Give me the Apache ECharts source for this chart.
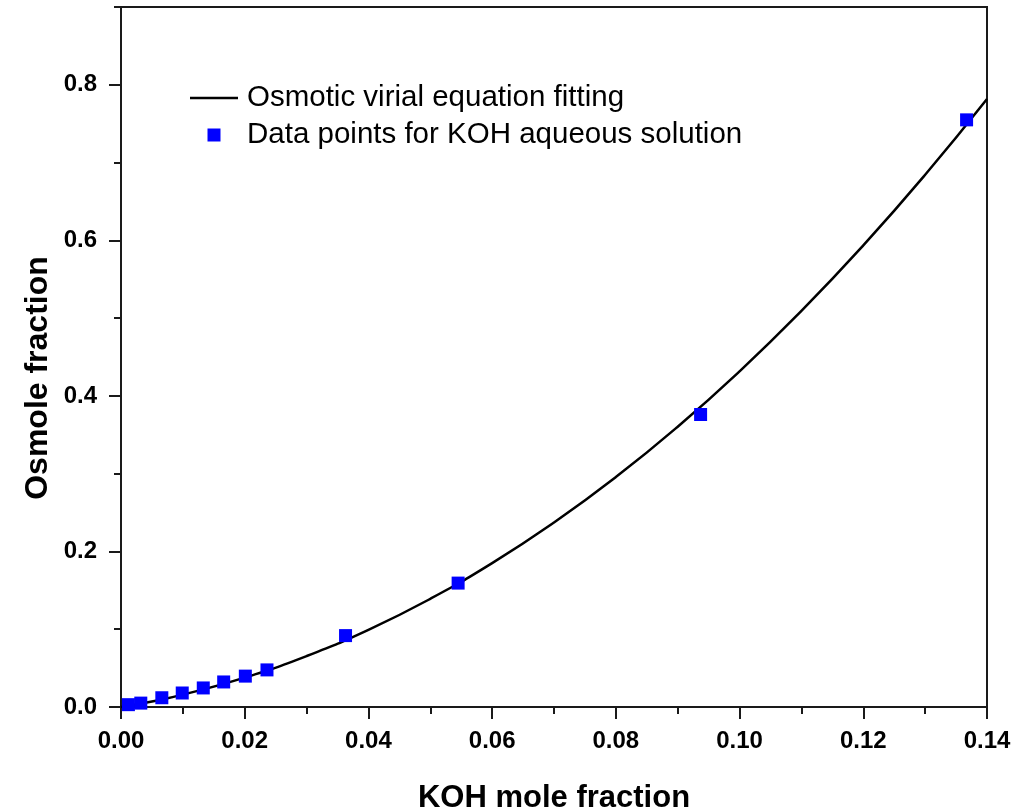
<!DOCTYPE html>
<html>
<head>
<meta charset="utf-8">
<script src="https://cdn.jsdelivr.net/npm/echarts@6/dist/echarts.min.js"></script>
<style>
html,body{margin:0;padding:0;background:#fff;}
#chart{width:1014px;height:810px;}
</style>
</head>
<body>
<div id="chart"></div>
<script>
// Data points for KOH aqueous solution
const xData = [0.0012, 0.0032, 0.0066, 0.0099, 0.0133, 0.0166, 0.0201, 0.0236, 0.0363, 0.0545, 0.0937, 0.1367];
const yData = [0.0030, 0.0050, 0.0119, 0.0180, 0.0245, 0.0322, 0.0397, 0.0477, 0.0918, 0.1593, 0.3761, 0.7549];

// Osmotic virial equation fitting curve
const xFit = [0, 0.005, 0.01, 0.02, 0.03, 0.04, 0.05, 0.06, 0.07, 0.08, 0.09, 0.10, 0.11, 0.12, 0.13, 0.14];
const yFit = [0, 0.0072, 0.0159, 0.0378, 0.0655, 0.0992, 0.1391, 0.1850, 0.2372, 0.2956, 0.3604, 0.4316, 0.5093, 0.5935, 0.6843, 0.7818];

const xTitle = 'KOH mole fraction';
const yTitle = 'Osmole fraction';
const lineName = 'Osmotic virial equation fitting';
const scatterName = 'Data points for KOH aqueous solution';
const yMajorTicks = [0, 0.2, 0.4, 0.6, 0.8];

const chart = echarts.init(document.getElementById('chart'), null, {renderer: 'canvas'});
const FONT = 'Liberation Sans, Arial, sans-serif';

const option = {
  backgroundColor: '#fff',
  animation: false,
  grid: {
    left: 121, right: 27, top: 7, bottom: 103,
    outerBoundsMode: 'none', containLabel: false,
    show: true, borderColor: '#1a1a1a', borderWidth: 2, backgroundColor: 'transparent'
  },
  legend: {
    orient: 'vertical',
    left: 190, top: 83, padding: 0,
    itemWidth: 48, itemHeight: 13, itemGap: 7,
    textStyle: {fontFamily: FONT, fontSize: 29.5, color: '#000', lineHeight: 30, padding: [0, 0, 0, 4]},
    data: [
      {name: lineName, icon: 'path://M0,0H48V2.5H0Z', itemStyle: {color: '#000'}},
      {name: scatterName, icon: 'path://M0,0H10V10H0Z', itemStyle: {color: '#0000ff'}}
    ]
  },
  xAxis: {
    type: 'value', min: 0, max: 0.14, interval: 0.02,
    axisLine: {show: true, onZero: false, lineStyle: {color: '#1a1a1a', width: 2}},
    axisTick: {show: true, inside: false, length: 12, lineStyle: {color: '#1a1a1a', width: 2}},
    minorTick: {show: true, splitNumber: 2, length: 7, lineStyle: {color: '#1a1a1a', width: 2}},
    splitLine: {show: false},
    axisLabel: {fontFamily: FONT, fontSize: 24, fontWeight: 'bold', color: '#000', margin: 22,
      formatter: v => v.toFixed(2)},
    name: xTitle, nameLocation: 'middle', nameGap: 76,
    nameTextStyle: {fontFamily: FONT, fontSize: 31, fontWeight: 'bold', color: '#000'}
  },
  yAxis: [{
    type: 'value', min: 0, max: 0.9, interval: 0.2,
    axisLine: {show: true, onZero: false, lineStyle: {color: '#1a1a1a', width: 2}},
    axisTick: {show: true, inside: false, length: 12, customValues: yMajorTicks, lineStyle: {color: '#1a1a1a', width: 2}},
    splitLine: {show: false},
    axisLabel: {fontFamily: FONT, fontSize: 24, fontWeight: 'bold', color: '#000', margin: 24,
      showMaxLabel: false, padding: [4, 0, 0, 0], formatter: v => v.toFixed(1)}
  }, {
    type: 'value', min: 0, max: 0.9, interval: 0.1, position: 'left',
    axisLine: {show: false},
    axisTick: {show: true, inside: false, length: 7, lineStyle: {color: '#1a1a1a', width: 2}},
    splitLine: {show: false},
    axisLabel: {show: false}
  }],
  graphic: [{
    type: 'text', x: 38, y: 378, rotation: Math.PI / 2,
    style: {text: yTitle, fontFamily: FONT, fontSize: 32, fontWeight: 'bold', fill: '#000',
      align: 'center', verticalAlign: 'middle'}
  }],
  series: [{
    name: lineName, type: 'line', smooth: true, symbol: 'none',
    data: xFit.map((x, i) => [x, yFit[i]]),
    lineStyle: {color: '#000', width: 2.5},
    itemStyle: {color: '#000'},
    z: 2
  }, {
    name: scatterName, type: 'scatter', symbol: 'rect', symbolSize: 13,
    data: xData.map((x, i) => [x, yData[i]]),
    itemStyle: {color: '#0000ff', opacity: 1},
    z: 3
  }]
};
chart.setOption(option);
</script>
</body>
</html>
